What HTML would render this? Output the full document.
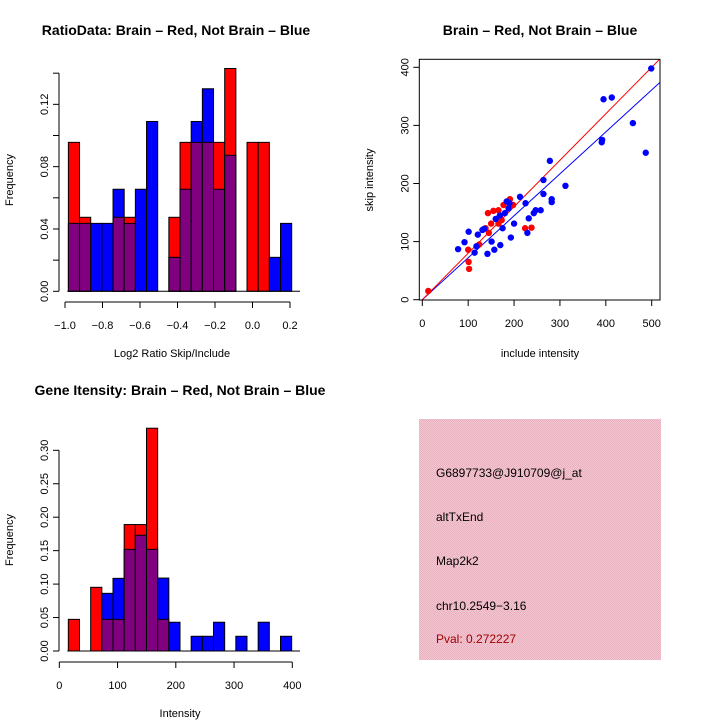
<!DOCTYPE html>
<html><head><meta charset="utf-8"><style>
html,body{margin:0;padding:0;background:#fff}
svg{display:block;font-family:"Liberation Sans",sans-serif}
</style></head><body>
<svg id="s" width="720" height="720" xmlns="http://www.w3.org/2000/svg">
<defs><pattern id="pk" width="2" height="2" patternUnits="userSpaceOnUse"><rect width="2" height="2" fill="#f4c6d2"/><rect width="1" height="1" fill="#e9b0c0"/><rect x="1" y="1" width="1" height="1" fill="#e9b0c0"/></pattern></defs>
</svg>
<script>
// Ratio histogram data
const ratioBinStart = -0.982, ratioBinWidth = 0.05955;
const ratioRed  = [0.0956,0.0475,0,0,0.0475,0.0475,0,0,0,0.0475,0.0956,0.0956,0.0956,0.0956,0.143,0,0.0956,0.0956,0,0];
const ratioBlue = [0.0436,0.0436,0.0436,0.0436,0.0655,0.0436,0.0655,0.109,0,0.0218,0.0655,0.109,0.130,0.0655,0.0873,0,0,0,0.0218,0.0436];
const ratioXTicks = [-1.0,-0.8,-0.6,-0.4,-0.2,0.0,0.2];
const ratioXLabels = ["\u22121.0","\u22120.8","\u22120.6","\u22120.4","\u22120.2","0.0","0.2"];
const ratioYTicks = [0,0.02,0.04,0.06,0.08,0.10,0.12,0.14];
const ratioYLabels = ["0.00","","0.04","","0.08","","0.12",""];
// Intensity histogram data
const intBinStart = 15.5, intBinWidth = 19.17;
const intRed  = [0.0473,0,0.0952,0.0473,0.0473,0.189,0.189,0.333,0.0473,0,0,0,0,0,0,0,0,0,0,0];
const intBlue = [0,0,0,0.0862,0.1086,0.152,0.173,0.152,0.109,0.043,0,0.022,0.022,0.043,0,0.022,0,0.043,0,0.022];
const intXTicks = [0,100,200,300,400];
const intYTicks = [0,0.05,0.10,0.15,0.20,0.25,0.30];
const intYLabels = ["0.00","0.05","0.10","0.15","0.20","0.25","0.30"];
// Scatter data
const redX = [13,100,101,102,124,138,143,145,150,155,166,166,173,177,191,198,224,238,169];
const redY = [15,86,65,53,95,123,149,115,131,153,154,131,137,163,173,163,123,124,143];
const blueX = [78,92,101,114,118,121,131,135,142,151,157,160,170,175,180,184,188,193,200,213,225,229,232,243,247,258,264,264,278,282,282,312,391,392,395,413,459,487,499,169,190];
const blueY = [87,99,117,81,92,112,120,122,79,100,86,139,94,123,149,169,157,107,131,177,166,115,140,149,154,154,182,206,239,173,168,196,271,275,345,348,304,253,398,145,166];
const redSlope = 0.8, blueSlope = 0.722;
const scatTicks = [0,100,200,300,400,500];

const svg = document.getElementById('s');
const NS = 'http://www.w3.org/2000/svg';
function mk(tag, attrs, parent){const e=document.createElementNS(NS,tag);for(const k in attrs)e.setAttribute(k,attrs[k]);(parent||svg).appendChild(e);return e;}
function txt(x,y,s,opt,parent){const t=mk('text',Object.assign({x:x,y:y,'font-size':11,'text-anchor':'middle',fill:'#000'},opt||{}),parent);t.textContent=s;return t;}

function hist(o){
  const g=mk('g',{});
  
  
  const sx=v=>o.px0+(v-o.x0)*o.kx, sy=v=>o.py0-v*o.ky;
  for(let i=0;i<o.red.length;i++){
    const a=o.bs+i*o.bw, b=a+o.bw, r=o.red[i], bl=o.blue[i];
    const hi=Math.max(r,bl), lo=Math.min(r,bl);
    if(hi<=0) continue;
    const x1=sx(a), x2=sx(b);
    const top=mk('rect',{x:x1,y:sy(hi),width:x2-x1,height:sy(0)-sy(hi),fill:r>=bl?'#ff0000':'#0000ff',stroke:'#000','stroke-width':1},g);
    
    
    if(lo>0){
      const p=mk('rect',{x:x1,y:sy(lo),width:x2-x1,height:sy(0)-sy(lo),fill:'#800080',stroke:'#000','stroke-width':1},g);
      
      
    }
  }
  // baseline
  mk('line',{x1:sx(o.bs)-1,x2:o.baseEnd,y1:sy(0),y2:sy(0),stroke:'#000'},g);
  // y axis
  const ya=mk('g',{},g);
  
  
  mk('line',{x1:o.ax,x2:o.ax,y1:sy(o.yt[0]),y2:sy(o.yt[o.yt.length-1]),stroke:'#000'},ya);
  o.yt.forEach((v,i)=>{mk('line',{x1:o.ax-6,x2:o.ax,y1:sy(v),y2:sy(v),stroke:'#000'},ya);
    if(o.yl[i]){const t=txt(0,0,o.yl[i],{transform:`translate(${o.ax-11},${sy(v)}) rotate(-90)`},ya);}});
  // x axis
  const xa=mk('g',{},g);
  
  
  const xy=o.xAxisY;
  mk('line',{x1:sx(o.xt[0]),x2:sx(o.xt[o.xt.length-1]),y1:xy,y2:xy,stroke:'#000'},xa);
  o.xt.forEach((v,i)=>{mk('line',{x1:sx(v),x2:sx(v),y1:xy,y2:xy+6,stroke:'#000'},xa);txt(sx(v),xy+27,o.xl[i],{},xa);});
  const xt=txt(o.xTitleX,o.xTitleY,o.xTitle,{},g);
  
  const yt=txt(0,0,'Frequency',{transform:`translate(13,${o.yTitleY}) rotate(-90)`},g);
  
  const tt=txt(o.titleX,o.titleY,o.title,{'font-weight':'bold','font-size':14},g);
  
}

hist({name:'ratio-histogram',red:ratioRed,blue:ratioBlue,bs:ratioBinStart,bw:ratioBinWidth,x0:-1,px0:65,kx:187.5,py0:291.3,ky:1558,
  ax:59,yt:ratioYTicks,yl:ratioYLabels,xt:ratioXTicks,xl:ratioXLabels,xAxisY:302,baseEnd:300,
  xTitle:'Log2 Ratio Skip/Include',xTitleX:172,xTitleY:357,yTitleY:180,title:'RatioData: Brain \u2013 Red, Not Brain \u2013 Blue',titleX:176,titleY:35});
hist({name:'intensity-histogram',red:intRed,blue:intBlue,bs:intBinStart,bw:intBinWidth,x0:0,px0:59.3,kx:233/400,py0:651,ky:669,
  ax:59,yt:intYTicks,yl:intYLabels,xt:intXTicks,xl:intXTicks.map(String),xAxisY:662,baseEnd:300,
  xTitle:'Intensity',xTitleX:180,xTitleY:717,yTitleY:540,title:'Gene Itensity: Brain \u2013 Red, Not Brain \u2013 Blue',titleX:180,titleY:395});

// Scatter
(function(){
  const g=mk('g',{});
  
  const sx=v=>422.3+v*229.4/500, sy=v=>299.7-v*232.4/400;
  const L=419.3,R=660,T=59.3,B=300;
  const clip=mk('clipPath',{id:'sc'},g);mk('rect',{x:L,y:T,width:R-L,height:B-T},clip);
  const lines=mk('g',{'clip-path':'url(#sc)'},g);
  const xm=(R-422.3)*500/229.4;
  const bl=mk('line',{x1:sx(0),y1:sy(0),x2:sx(xm),y2:sy(xm*blueSlope),stroke:'#0000ff','stroke-width':1},lines);
  
  const rl=mk('line',{x1:sx(0),y1:sy(0),x2:sx(xm),y2:sy(xm*redSlope),stroke:'#ff0000','stroke-width':1},lines);
  
  redX.forEach((x,i)=>{const c=mk('circle',{cx:sx(x),cy:sy(redY[i]),r:3.2,fill:'#ff0000'},g);
    });
  blueX.forEach((x,i)=>{const c=mk('circle',{cx:sx(x),cy:sy(blueY[i]),r:3.2,fill:'#0000ff'},g);
    });
  mk('rect',{x:L,y:T,width:R-L,height:B-T,fill:'none',stroke:'#000'},g);
  scatTicks.forEach(v=>{mk('line',{x1:sx(v),x2:sx(v),y1:B,y2:B+6,stroke:'#000'},g);txt(sx(v),B+27,String(v),{},g);});
  scatTicks.slice(0,5).forEach(v=>{mk('line',{x1:L-6,x2:L,y1:sy(v),y2:sy(v),stroke:'#000'},g);txt(0,0,String(v),{transform:`translate(${L-11},${sy(v)}) rotate(-90)`},g);});
  const xt=txt(540,357,'include intensity',{},g);
  const yt=txt(0,0,'skip intensity',{transform:'translate(373,180) rotate(-90)'},g);
  const tt=txt(540,35,'Brain \u2013 Red, Not Brain \u2013 Blue',{'font-weight':'bold','font-size':14},g);
})();

// Info panel
(function(){
  const g=mk('g',{});
  
  mk('rect',{x:419,y:419,width:242,height:241,fill:'url(#pk)'},g);
  const lines=[['G6897733@J910709@j_at',477,'#000','probe-id'],['altTxEnd',521,'#000','event-type'],['Map2k2',565,'#000','gene-name'],['chr10.2549\u22123.16',610,'#000','location'],['Pval: 0.272227',643,'#a00000','pvalue']];
  lines.forEach(l=>{const t=txt(436,l[1],l[0],{'text-anchor':'start',fill:l[2],'font-size':12},g);
    });
})();
</script>
</body></html>
